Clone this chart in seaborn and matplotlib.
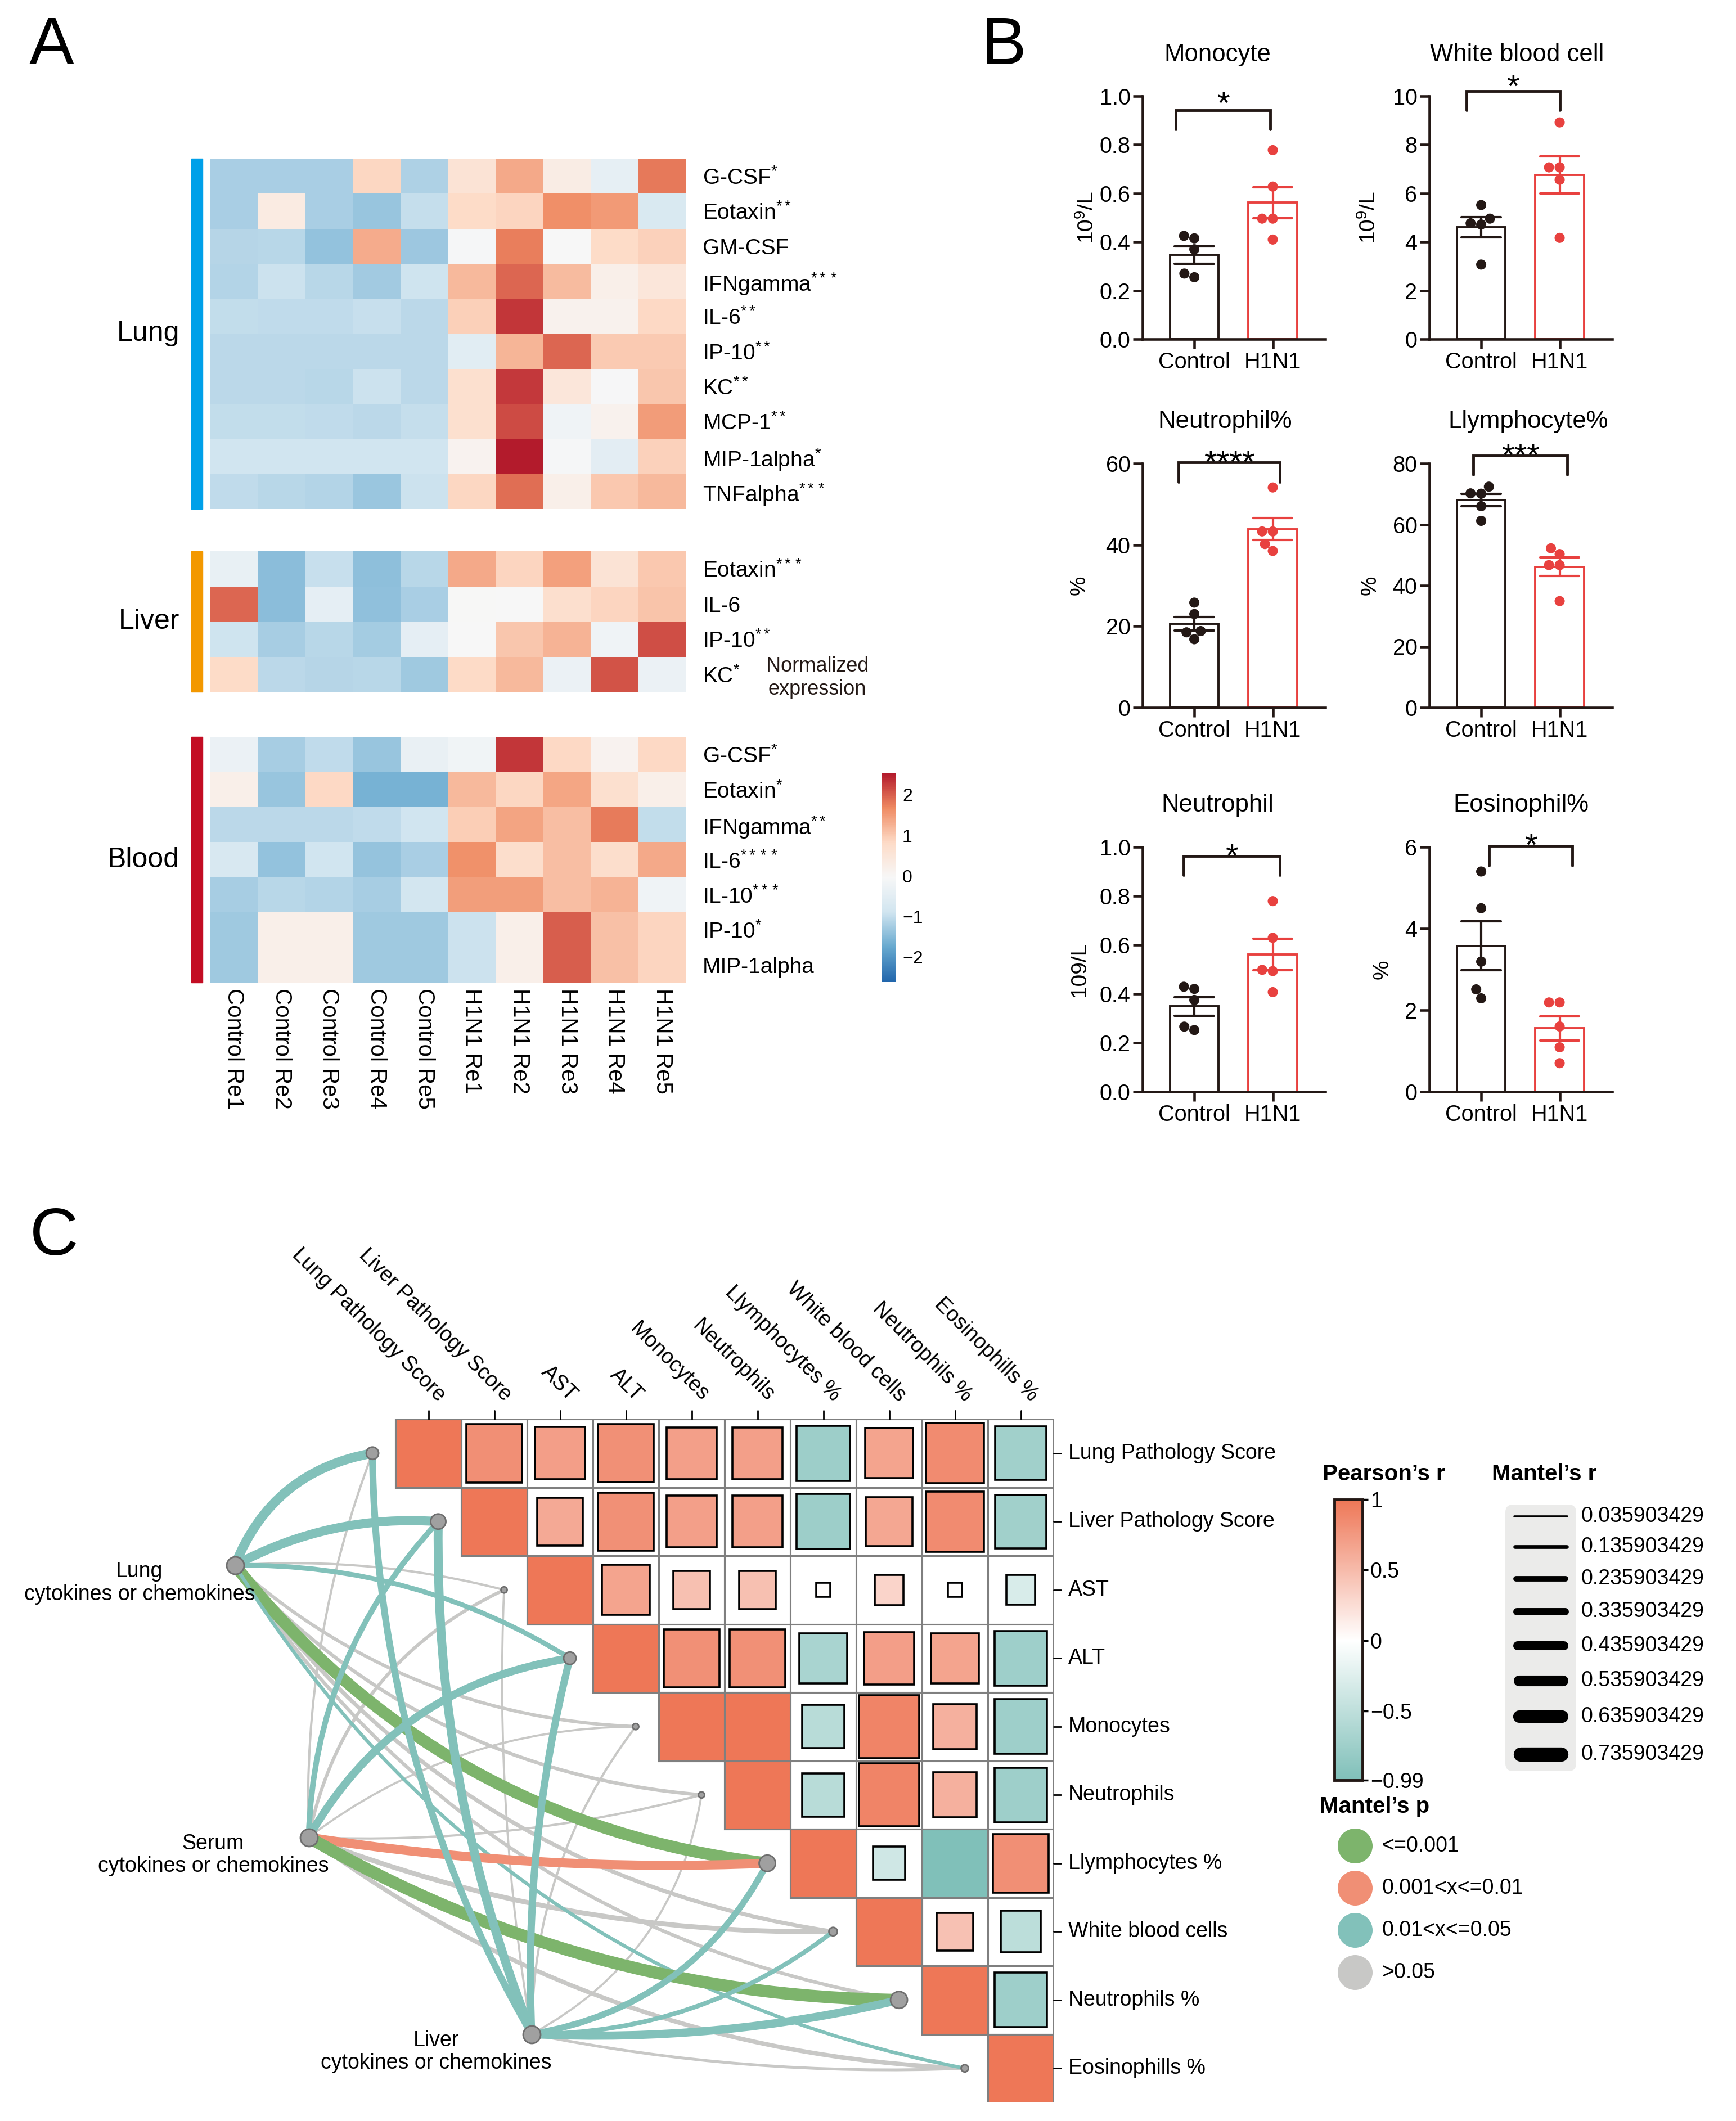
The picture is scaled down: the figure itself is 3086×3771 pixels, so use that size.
import matplotlib
matplotlib.use('Agg')
import matplotlib as mpl
import matplotlib.pyplot as plt
import numpy as np
import pandas as pd
import seaborn as sns
from matplotlib.colors import LinearSegmentedColormap, Normalize
from matplotlib.patches import Rectangle, PathPatch, FancyBboxPatch
from matplotlib.path import Path
from matplotlib.ticker import FormatStrFormatter

W, H = 3086, 3771

sns.set_theme(style='ticks')
plt.rcParams['font.family'] = ['Liberation Sans', 'DejaVu Sans']
plt.rcParams['mathtext.fontset'] = 'custom'
plt.rcParams['mathtext.rm'] = 'Liberation Sans'
plt.rcParams['mathtext.it'] = 'Liberation Sans:italic'
plt.rcParams['mathtext.bf'] = 'Liberation Sans:bold'
plt.rcParams['mathtext.default'] = 'regular'
plt.rcParams['text.color'] = 'black'
plt.rcParams['axes.labelcolor'] = 'black'
plt.rcParams['xtick.color'] = 'black'
plt.rcParams['ytick.color'] = 'black'

nan = np.nan

# ---------------- data: panel A (normalized cytokine expression) ----------------
samples = ['Control Re1', 'Control Re2', 'Control Re3', 'Control Re4', 'Control Re5',
           'H1N1 Re1', 'H1N1 Re2', 'H1N1 Re3', 'H1N1 Re4', 'H1N1 Re5']

lung_cytokines = ['G-CSF$^{*}$', 'Eotaxin$^{**}$', 'GM-CSF', 'IFNgamma$^{***}$', 'IL-6$^{**}$',
                  'IP-10$^{**}$', 'KC$^{**}$', 'MCP-1$^{**}$', 'MIP-1alpha$^{*}$', 'TNFalpha$^{***}$']
lung_expr = [
    [-1.21, -1.21, -1.21, 0.86, -1.17, 0.57, 1.34, 0.30, -0.42, 1.81],
    [-1.22, 0.33, -1.22, -1.37, -1.00, 0.79, 0.87, 1.62, 1.51, -0.72],
    [-1.11, -1.09, -1.40, 1.32, -1.31, -0.09, 1.77, -0.05, 0.79, 0.92],
    [-1.13, -0.93, -1.09, -1.27, -0.92, 1.18, 1.94, 1.16, 0.21, 0.48],
    [-1.01, -1.03, -1.03, -0.97, -1.08, 0.94, 2.30, 0.14, 0.14, 0.83],
    [-1.07, -1.07, -1.07, -1.07, -1.07, -0.54, 1.22, 1.94, 0.99, 0.99],
    [-1.07, -1.07, -1.10, -0.93, -1.07, 0.67, 2.28, 0.48, -0.08, 1.04],
    [-1.01, -1.01, -1.03, -1.07, -1.00, 0.67, 2.14, -0.22, 0.14, 1.48],
    [-0.90, -0.90, -0.90, -0.90, -0.90, 0.11, 2.51, -0.10, -0.49, 0.92],
    [-1.04, -1.09, -1.14, -1.34, -0.93, 0.85, 1.89, 0.21, 1.01, 1.18],
]

liver_cytokines = ['Eotaxin$^{***}$', 'IL-6', 'IP-10$^{**}$', 'KC$^{*}$']
liver_expr = [
    [-0.38, -1.47, -0.97, -1.44, -1.09, 1.34, 0.88, 1.44, 0.57, 1.01],
    [1.95, -1.47, -0.45, -1.42, -1.22, -0.04, -0.06, 0.70, 0.88, 1.05],
    [-0.91, -1.23, -1.09, -1.26, -0.45, -0.05, 1.04, 1.23, -0.22, 2.13],
    [0.79, -1.07, -1.11, -1.09, -1.30, 0.82, 1.18, -0.31, 2.08, -0.31],
]

blood_cytokines = ['G-CSF$^{*}$', 'Eotaxin$^{*}$', 'IFNgamma$^{**}$', 'IL-6$^{****}$', 'IL-10$^{***}$',
                   'IP-10$^{*}$', 'MIP-1alpha']
blood_expr = [
    [-0.31, -1.23, -1.03, -1.37, -0.36, -0.20, 2.30, 0.83, 0.11, 0.83],
    [0.21, -1.36, 0.84, -1.63, -1.63, 1.18, 0.85, 1.38, 0.67, 0.21],
    [-1.07, -1.07, -1.07, -1.04, -0.90, 0.95, 1.40, 1.11, 1.78, -1.01],
    [-0.74, -1.40, -0.90, -1.39, -1.22, 1.61, 0.73, 1.11, 0.73, 1.34],
    [-1.23, -1.09, -1.14, -1.23, -0.85, 1.46, 1.46, 1.11, 1.24, -0.22],
    [-1.30, 0.21, 0.21, -1.30, -1.30, -0.93, 0.21, 2.00, 1.10, 0.88],
    [-1.30, 0.21, 0.21, -1.30, -1.30, -0.93, 0.21, 2.00, 1.10, 0.88],
]

# ---------------- data: panel B (blood counts) ----------------
groups = ['Control', 'H1N1']
group_colors = {'Control': '#231815', 'H1N1': '#e8413f'}
b_titles = ['Monocyte', 'White blood cell', 'Neutrophil%', 'Llymphocyte%', 'Neutrophil', 'Eosinophil%']
b_ylabels = ['10$^9$/L', '10$^9$/L', '%', '%', '109/L', '%']
b_control = [
    [0.425, 0.415, 0.37, 0.255, 0.27],
    [5.52, 4.96, 4.77, 4.72, 3.07],
    [25.8, 23.0, 18.8, 18.5, 16.8],
    [72.4, 70.2, 70.1, 66.0, 61.2],
    [0.429, 0.42, 0.375, 0.252, 0.266],
    [5.40, 4.50, 3.19, 2.51, 2.29],
]
b_h1n1 = [
    [0.778, 0.628, 0.496, 0.496, 0.41],
    [8.92, 7.07, 7.07, 6.56, 4.17],
    [54.1, 43.3, 43.3, 40.2, 38.5],
    [52.2, 50.3, 46.7, 46.7, 34.9],
    [0.779, 0.629, 0.498, 0.493, 0.407],
    [2.19, 2.19, 1.60, 1.09, 0.70],
]
b_yticks = [[0, 0.2, 0.4, 0.6, 0.8, 1.0], [0, 2, 4, 6, 8, 10], [0, 20, 40, 60],
            [0, 20, 40, 60, 80], [0, 0.2, 0.4, 0.6, 0.8, 1.0], [0, 2, 4, 6]]
b_stars = ['*', '*', '****', '***', '*', '*']

# ---------------- data: panel C (Pearson + Mantel) ----------------
spec_names = ['Lung Pathology Score', 'Liver Pathology Score', 'AST', 'ALT', 'Monocytes', 'Neutrophils',
              'Llymphocytes %', 'White blood cells', 'Neutrophils %', 'Eosinophills %']
pearson_r = [
    [1.00, 0.82, 0.71, 0.81, 0.70, 0.70, -0.76, 0.67, 0.85, -0.73],
    [nan, 1.00, 0.63, 0.81, 0.70, 0.70, -0.76, 0.65, 0.85, -0.73],
    [nan, nan, 1.00, 0.67, 0.46, 0.46, 0.02, 0.31, 0.02, -0.30],
    [nan, nan, nan, 1.00, 0.81, 0.81, -0.67, 0.71, 0.67, -0.75],
    [nan, nan, nan, nan, 1.00, 1.00, -0.55, 0.90, 0.58, -0.75],
    [nan, nan, nan, nan, nan, 1.00, -0.55, 0.90, 0.58, -0.75],
    [nan, nan, nan, nan, nan, nan, 1.00, -0.37, -0.99, 0.82],
    [nan, nan, nan, nan, nan, nan, nan, 1.00, 0.45, -0.52],
    [nan, nan, nan, nan, nan, nan, nan, nan, 1.00, -0.75],
    [nan, nan, nan, nan, nan, nan, nan, nan, nan, 1.00],
]
env_names = ['Lung\ncytokines or chemokines', 'Serum\ncytokines or chemokines', 'Liver\ncytokines or chemokines']
mantel_r = [
    [0.46, 0.44, 0.05, 0.20, 0.11, 0.12, 0.60, 0.15, 0.12, 0.12],
    [0.05, 0.24, 0.11, 0.37, 0.04, 0.05, 0.44, 0.20, 0.62, 0.17],
    [0.31, 0.43, 0.04, 0.34, 0.05, 0.04, 0.28, 0.18, 0.39, 0.08],
]
mantel_p = [
    ['0.01<x<=0.05', '0.01<x<=0.05', '>0.05', '0.01<x<=0.05', '>0.05', '>0.05', '<=0.001', '>0.05', '>0.05', '0.01<x<=0.05'],
    ['>0.05', '0.01<x<=0.05', '>0.05', '0.01<x<=0.05', '>0.05', '>0.05', '0.001<x<=0.01', '>0.05', '<=0.001', '>0.05'],
    ['0.01<x<=0.05', '0.01<x<=0.05', '>0.05', '0.01<x<=0.05', '>0.05', '>0.05', '0.01<x<=0.05', '0.01<x<=0.05', '0.01<x<=0.05', '>0.05'],
]
target_node_px = [22, 27, 11, 22, 11, 11, 29, 15, 30, 13]
p_levels = ['<=0.001', '0.001<x<=0.01', '0.01<x<=0.05', '>0.05']
p_colors = {'<=0.001': '#7db46c', '0.001<x<=0.01': '#f08f75', '0.01<x<=0.05': '#82c1ba', '>0.05': '#c8c8c6'}
mantel_legend_r = [0.035903429, 0.135903429, 0.235903429, 0.335903429,
                   0.435903429, 0.535903429, 0.635903429, 0.735903429]

# ---------------- figure ----------------
fig = plt.figure(figsize=(W / 100, H / 100), dpi=100)


def px_axes(x0, y0, x1, y1):
    return fig.add_axes([x0 / W, 1 - y1 / H, (x1 - x0) / W, (y1 - y0) / H])


def fig_text(x, y, s, **kw):
    fig.text(x / W, 1 - y / H, s, **kw)


fig_text(92, 84, 'A', fontsize=86, ha='center', va='center')
fig_text(1784, 84, 'B', fontsize=86, ha='center', va='center')
fig_text(96, 2201, 'C', fontsize=86, ha='center', va='center')

## Panel A - heatmaps
hm_cmap = LinearSegmentedColormap.from_list(
    'pheatmap_rdbu', ['#2166AC', '#67A9CF', '#D1E5F0', '#F7F7F7', '#FDDBC7', '#EF8A62', '#B2182B'])
hm_cax = px_axes(1568, 1374, 1593, 1746)
blocks = [
    ('Lung', lung_cytokines, lung_expr, '#00a0e9', 282, 905),
    ('Liver', liver_cytokines, liver_expr, '#f39800', 980, 1230),
    ('Blood', blood_cytokines, blood_expr, '#c30d23', 1310, 1747),
]
for k, (tissue, names, expr, side_color, top, bottom) in enumerate(blocks):
    ax = px_axes(374, top, 1220, bottom)
    last = k == len(blocks) - 1
    df = pd.DataFrame(expr, index=names, columns=samples)
    sns.heatmap(df, cmap=hm_cmap, vmin=-2.62, vmax=2.54, ax=ax, cbar=last,
                cbar_ax=hm_cax if last else None,
                cbar_kws={'ticks': [-2, -1, 0, 1, 2]} if last else None,
                xticklabels=last, yticklabels=True)
    ax.yaxis.tick_right()
    ax.set_yticklabels(names, rotation=0, fontsize=28)
    ax.tick_params(axis='y', length=0, pad=21)
    if last:
        ax.set_xticklabels(samples, rotation=-90, fontsize=29)
        ax.tick_params(axis='x', length=0, pad=7)
        cbar = ax.collections[0].colorbar
        cbar.outline.set_visible(False)
        cbar.ax.tick_params(length=0, labelsize=23, pad=8)
    nrows = len(names)
    ax.add_patch(Rectangle((-0.40, 0), 0.237, nrows, color=side_color, clip_on=False))
    ax.text(-0.65, nrows / 2, tissue, ha='right', va='center', fontsize=36)

fig_text(1453, 1205, 'Normalized\nexpression', ha='center', va='center', fontsize=26,
         color='#231815', linespacing=1.25)

## Panel B - bar charts
b_left = [2031, 2541]
b_rows = [(171, 603), (824, 1258), (1506, 1941)]
b_ylabel_x = [-0.243, -0.27, -0.29, -0.27, -0.29, -0.2]
b_title_x = [0.41, 0.48, 0.45, 0.54, 0.41, 0.50]
b_brackets = [(-0.24, 0.97, 0.863, 0.943, 1.005), (-0.19, 1.0, 9.43, 10.2, 10.75),
              (-0.2, 1.09, 55.5, 60.3, 62.3), (-0.1, 1.1, 76.3, 82.6, 85.3),
              (-0.14, 1.09, 0.886, 0.963, 0.997), (0.1, 1.16, 5.55, 6.03, 6.25)]
for k in range(len(b_titles)):
    row, col = divmod(k, 2)
    ax = px_axes(b_left[col], b_rows[row][0], b_left[col] + 325, b_rows[row][1])
    df = pd.DataFrame({'group': [groups[0]] * len(b_control[k]) + [groups[1]] * len(b_h1n1[k]),
                       'value': b_control[k] + b_h1n1[k]})
    sns.barplot(data=df, x='group', y='value', hue='group', order=groups, hue_order=groups,
                palette=group_colors, fill=False, width=0.62, errorbar='se', capsize=0.5,
                linewidth=2.8, err_kws={'linewidth': 3.0}, legend=False, ax=ax)
    sns.swarmplot(data=df, x='group', y='value', hue='group', order=groups, hue_order=groups,
                  palette=group_colors, size=13, legend=False, ax=ax)
    ax.set_xlim(-0.66, 1.67)
    ax.set_ylim(0, b_yticks[k][-1])
    ax.set_yticks(b_yticks[k])
    if b_yticks[k][-1] <= 1:
        ax.yaxis.set_major_formatter(FormatStrFormatter('%.1f'))
    sns.despine(ax=ax)
    for s in ('left', 'bottom'):
        ax.spines[s].set_linewidth(3.3)
        ax.spines[s].set_color('#231815')
    ax.tick_params(axis='both', length=12.5, width=3.3, labelsize=28.5, pad=3, color='#231815')
    ax.set_xlabel('')
    ax.set_ylabel(b_ylabels[k], fontsize=28)
    ax.yaxis.set_label_coords(b_ylabel_x[k], 0.5)
    ax.text(b_title_x[k], 1.171, b_titles[k], transform=ax.transAxes, ha='center', va='center',
            fontsize=31.5)
    x0, x1, y_leg, y_top, y_star = b_brackets[k]
    ax.plot([x0, x0, x1, x1], [y_leg, y_top, y_top, y_leg], color='#231815', lw=3.5,
            clip_on=False, solid_joinstyle='miter')
    ax.annotate(b_stars[k], xy=((x0 + x1) / 2, y_star), xytext=(0, -0.58 * 42),
                textcoords='offset points', ha='center', va='baseline', fontsize=42,
                annotation_clip=False)

## Panel C - correlation matrix with Mantel links
pearson_cmap = LinearSegmentedColormap.from_list(
    'pearson', [(0, '#80c0b9'), (0.99 / 1.99, '#ffffff'), (1, '#ee7757')])
pearson_norm = Normalize(-0.99, 1)
n = len(spec_names)
cell_w, cell_h = 117.0, 121.5
axc = px_axes(703 - cell_w * 4.5, 2523, 703 + cell_w * n, 2523 + cell_h * n)
axc.set_xlim(-4.5, n)
axc.set_ylim(n, 0)
axc.axis('off')

for i in range(n):
    for j in range(i, n):
        r = pearson_r[i][j]
        fc = pearson_cmap(pearson_norm(r))
        axc.add_patch(Rectangle((j, i), 1, 1, fc='white', ec='#7f7f7f', lw=2.2, zorder=1))
        if abs(r) >= 0.99:
            axc.add_patch(Rectangle((j, i), 1, 1, fc=fc, ec='#7f7f7f', lw=2.2, zorder=2))
        else:
            side = 0.19 + 0.81 * abs(r)
            off = (1 - side) / 2
            axc.add_patch(Rectangle((j + off, i + off), side, side, fc=fc, ec='black', lw=2.6, zorder=3))

for j, name in enumerate(spec_names):
    axc.plot([j + 0.5, j + 0.5], [0, -0.12], color='black', lw=2, clip_on=False)
    axc.text(j + 0.6, -0.2, name, rotation=-45, rotation_mode='anchor', ha='right', va='bottom',
             fontsize=27)
    axc.plot([n, n + 0.11], [j + 0.5, j + 0.5], color='black', lw=2, clip_on=False)
    axc.text(n + 0.22, j + 0.5, name, ha='left', va='center', fontsize=27)

env_pos = [(-2.44, 2.14), (-1.32, 6.12), (2.07, 9.0)]
scale = np.array([cell_w, cell_h])
center_px = np.array([n / 2, n / 2]) * scale


def mantel_lw(r):
    return (2.5 + 31 * r) * 0.72


for e, (ex, ey) in enumerate(env_pos):
    for t in range(n):
        start = np.array([ex, ey])
        end = np.array([t - 0.35, t + 0.5])
        s_px, e_px = start * scale, end * scale
        d = e_px - s_px
        length = np.hypot(*d)
        nrm = np.array([-d[1], d[0]]) / length
        mid = (s_px + e_px) / 2
        sgn = np.sign(np.dot(center_px - mid, nrm)) or 1
        theta = np.arctan2(d[1], d[0])
        # curves bend away from the matrix; steep diagonal links bend more
        bow = 2 * (10 + 0.11 * length * abs(np.sin(2 * theta)))
        ctrl = (mid - sgn * nrm * bow) / scale
        pcat = mantel_p[e][t]
        path = Path([start, ctrl, end], [Path.MOVETO, Path.CURVE3, Path.CURVE3])
        axc.add_patch(PathPatch(path, fc='none', ec=p_colors[pcat], lw=mantel_lw(mantel_r[e][t]),
                                capstyle='butt', zorder=4 if pcat == '>0.05' else 5, clip_on=False))

tx = [t - 0.35 for t in range(n)]
ty = [t + 0.5 for t in range(n)]
axc.scatter(tx, ty, s=[(d * 0.72) ** 2 for d in target_node_px], c='#a0a0a0',
            edgecolors='#6e6e6e', linewidths=2, zorder=6, clip_on=False)
axc.scatter([p[0] for p in env_pos], [p[1] for p in env_pos], s=(31 * 0.72) ** 2, c='#a0a0a0',
            edgecolors='#6e6e6e', linewidths=2, zorder=6, clip_on=False)
for (ex, ey), name in zip(env_pos, env_names):
    axc.text(ex - 1.45, ey + 0.26, name, ha='center', va='center', fontsize=27, linespacing=1.15,
             zorder=7)

# legends for panel C
leg = fig.add_axes([0, 0, 1, 1])
leg.set_xlim(0, W)
leg.set_ylim(H, 0)
leg.axis('off')

leg.text(2351, 2621, 'Pearson\u2019s r', fontsize=29, fontweight='bold', ha='left', va='center')
leg.text(2652, 2621, 'Mantel\u2019s r', fontsize=29, fontweight='bold', ha='left', va='center')
leg.text(2346, 3212, 'Mantel\u2019s p', fontsize=29, fontweight='bold', ha='left', va='center')

pcax = px_axes(2372, 2666, 2422, 3165)
cb = fig.colorbar(mpl.cm.ScalarMappable(norm=pearson_norm, cmap=pearson_cmap), cax=pcax,
                  ticks=[1, 0.5, 0, -0.5, -0.99])
cb.ax.set_yticklabels(['1', '0.5', '0', '\u22120.5', '\u22120.99'])
cb.outline.set_linewidth(3.5)
cb.outline.set_edgecolor('#231815')
cb.ax.tick_params(length=7, width=2.5, labelsize=27, pad=3)

leg.add_patch(FancyBboxPatch((2676, 2675), 126, 474, boxstyle='round,pad=0,rounding_size=14',
                             fc='#ebebea', ec='none'))
y = 2696.0
for k, r in enumerate(mantel_legend_r):
    w_px = 2.5 + 31 * r
    leg.plot([2690 + w_px / 2, 2788 - w_px / 2], [y, y], color='black', lw=mantel_lw(r),
             solid_capstyle='round')
    leg.text(2810, y, f'{r:.9f}', fontsize=27, ha='left', va='center')
    if k + 1 < len(mantel_legend_r):
        w_next = 2.5 + 31 * mantel_legend_r[k + 1]
        y += 51 + 0.65 * (w_px + w_next) / 2

for k, lvl in enumerate(p_levels):
    yy = 3282 + 75 * k
    leg.scatter([2409], [yy], s=(62 * 0.72) ** 2, c=p_colors[lvl], edgecolors='none')
    leg.text(2456, yy, lvl, fontsize=27, ha='left', va='center')

fig.savefig('out.png', dpi=100)
